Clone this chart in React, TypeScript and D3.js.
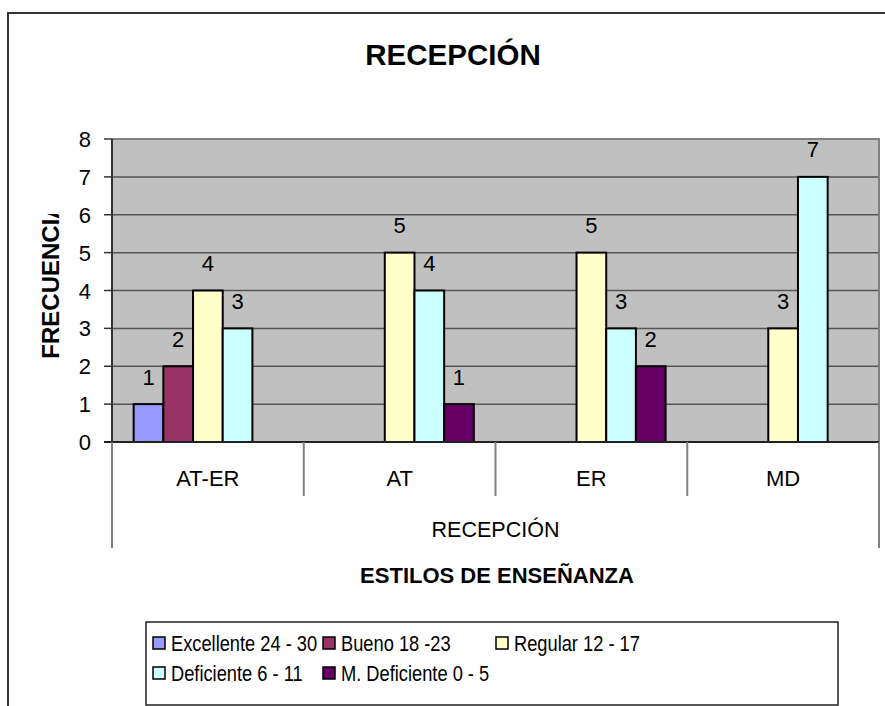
import * as d3 from 'd3';

const categories = ['AT-ER', 'AT', 'ER', 'MD'];
const seriesNames = ['Excellente 24 - 30', 'Bueno 18 -23', 'Regular 12 - 17', 'Deficiente 6 - 11', 'M. Deficiente 0 - 5'];
const seriesColors = ['#9999FF', '#993366', '#FFFFCC', '#CCFFFF', '#660066'];
// values per series, in category order
const excellente = [1, 0, 0, 0];
const bueno = [2, 0, 0, 0];
const regular = [4, 5, 5, 3];
const deficiente = [3, 4, 3, 7];
const mDeficiente = [0, 1, 2, 0];
const yTicks = [0, 1, 2, 3, 4, 5, 6, 7, 8];

const FONT = '"Liberation Sans", Arial, Helvetica, sans-serif';

export default function App() {
    const width = 885;
    const height = 706;
    const plot = { left: 112, right: 879, top: 139, bottom: 442 };

    const values = [excellente, bueno, regular, deficiente, mDeficiente];

    const x0 = d3.scaleBand<string>()
        .domain(categories)
        .range([plot.left, plot.right])
        .padding(0);

    const side = x0.bandwidth() * 0.113;
    const x1 = d3.scaleBand<number>()
        .domain(d3.range(seriesNames.length))
        .range([side, x0.bandwidth() - side])
        .padding(0);

    const y = d3.scaleLinear()
        .domain([0, 8])
        .range([plot.bottom, plot.top]);

    const bars = categories.flatMap((c, ci) =>
        values.map((vals, si) => ({ cat: c, si, v: vals[ci] })).filter(d => d.v > 0)
    );

    const midX = (plot.left + plot.right) / 2;

    const legendCols = [153, 323, 496];
    const legendRows = [643, 673];

    return (
        <svg width={width} height={height} style={{ position: 'absolute', left: 0, top: 0, background: '#fff' }}
            fontFamily={FONT}>
            <defs>
                <clipPath id="ytitle-clip">
                    <rect x={0} y={214} width={110} height={400} />
                </clipPath>
            </defs>

            {/* outer frame */}
            <path d={`M8,${height} V13 H${width}`} fill="none" stroke="#333" strokeWidth={2} />

            <text x={453} y={65} textAnchor="middle" fontSize={29.5} fontWeight="bold">RECEPCIÓN</text>

            {/* plot area */}
            <rect x={plot.left} y={plot.top} width={plot.right - plot.left} height={plot.bottom - plot.top} fill="#C0C0C0" />
            {yTicks.filter(t => t > 0 && t < 8).map(t => (
                <line key={t} x1={plot.left} x2={plot.right} y1={y(t)} y2={y(t)} stroke="#555" strokeWidth={1.5} />
            ))}
            <path d={`M${plot.left},${plot.top} H${plot.right} V${plot.bottom}`} fill="none" stroke="#808080" strokeWidth={2} />

            {/* bars */}
            {bars.map((d, i) => (
                <rect key={i}
                    x={x0(d.cat)! + x1(d.si)!}
                    y={y(d.v)}
                    width={x1.bandwidth()}
                    height={y(0) - y(d.v)}
                    fill={seriesColors[d.si]}
                    stroke="#000"
                    strokeWidth={2} />
            ))}
            {bars.map((d, i) => (
                <text key={'l' + i}
                    x={x0(d.cat)! + x1(d.si)! + x1.bandwidth() / 2}
                    y={y(d.v) - 19.5}
                    textAnchor="middle"
                    fontSize={22}>{d.v}</text>
            ))}

            {/* y axis */}
            <line x1={plot.left} x2={plot.left} y1={plot.top} y2={plot.bottom} stroke="#333" strokeWidth={2} />
            {yTicks.map(t => (
                <g key={t}>
                    <line x1={plot.left - 8} x2={plot.left} y1={y(t)} y2={y(t)} stroke="#333" strokeWidth={1.5} />
                    <text x={plot.left - 21} y={y(t) + 8} textAnchor="end" fontSize={22}>{t}</text>
                </g>
            ))}
            <line x1={plot.left - 8} x2={plot.right} y1={plot.bottom} y2={plot.bottom} stroke="#222" strokeWidth={2} />

            <g clipPath="url(#ytitle-clip)">
                <text transform="translate(58.5,280) rotate(-90)" textAnchor="middle" fontSize={24} fontWeight="bold">FRECUENCIA</text>
            </g>

            {/* category axis */}
            {[plot.left, plot.right].map(xv => (
                <line key={xv} x1={xv} x2={xv} y1={plot.bottom} y2={548} stroke="#808080" strokeWidth={2} />
            ))}
            {categories.slice(1).map(c => (
                <line key={c} x1={x0(c)!} x2={x0(c)!} y1={plot.bottom} y2={496} stroke="#808080" strokeWidth={2} />
            ))}
            {categories.map(c => (
                <text key={c} x={x0(c)! + x0.bandwidth() / 2} y={486} textAnchor="middle" fontSize={22}>{c}</text>
            ))}
            <text x={midX} y={537} textAnchor="middle" fontSize={21.5}>RECEPCIÓN</text>
            <text x={497} y={583} textAnchor="middle" fontSize={22} fontWeight="bold">ESTILOS DE ENSEÑANZA</text>

            {/* legend */}
            <rect x={146} y={622} width={692} height={83} fill="#fff" stroke="#222" strokeWidth={1.5} />
            {seriesNames.map((name, i) => {
                const lx = legendCols[i % 3];
                const ly = legendRows[Math.floor(i / 3)];
                return (
                    <g key={name}>
                        <rect x={lx} y={ly - 6} width={12} height={12} fill={seriesColors[i]} stroke="#000" strokeWidth={1.5} />
                        <text transform={`translate(${lx + 18},${ly + 8}) scale(0.85,1)`} fontSize={21.5}>{name}</text>
                    </g>
                );
            })}
        </svg>
    );
}
